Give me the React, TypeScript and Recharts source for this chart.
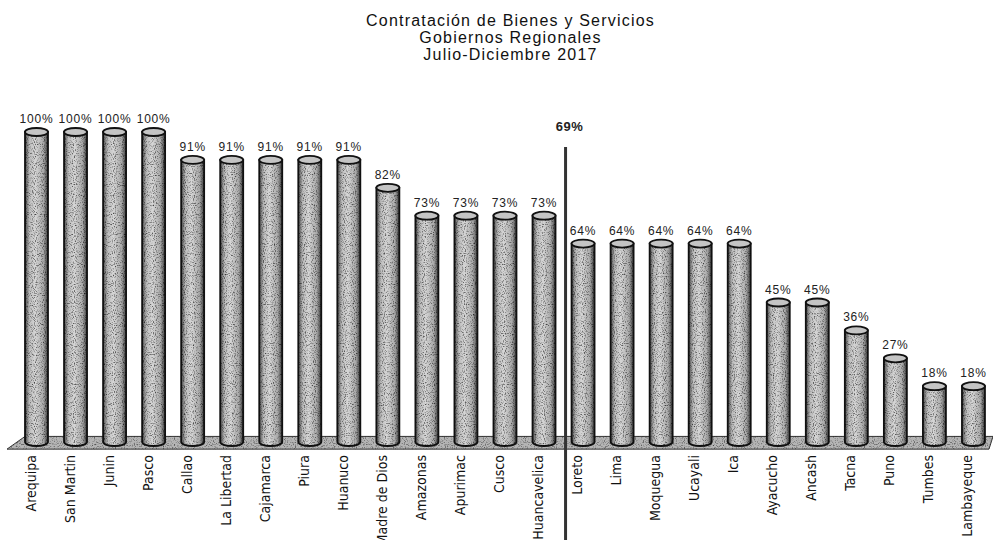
import { BarChart, Bar, XAxis, YAxis, LabelList, ReferenceLine, ReferenceArea } from 'recharts';

const regions = [
  'Arequipa', 'San Martin', 'Junin', 'Pasco', 'Callao', 'La Libertad', 'Cajamarca', 'Piura', 'Huanuco',
  'Madre de Dios', 'Amazonas', 'Apurimac', 'Cusco', 'Huancavelica', 'Loreto', 'Lima', 'Moquegua',
  'Ucayali', 'Ica', 'Ayacucho', 'Ancash', 'Tacna', 'Puno', 'Tumbes', 'Lambayeque',
];
const pct = [100, 100, 100, 100, 91, 91, 91, 91, 91, 82, 73, 73, 73, 73, 64, 64, 64, 64, 64, 45, 45, 36, 27, 18, 18];
const average = 69;
const averageAt = 'Loreto';
const titleLines = ['Contratación de Bienes y Servicios', 'Gobiernos Regionales', 'Julio-Diciembre 2017'];

const data = regions.map((name, i) => ({ name, value: pct[i] }));

const narrow = "'Liberation Sans Narrow', 'DejaVu Sans Condensed', 'Liberation Sans', sans-serif";
const sans = "'Liberation Sans', Arial, sans-serif";

function Cylinder(props: any) {
  const { x, y, width, height } = props;
  if (height == null || height <= 0) return null;
  const rx = width / 2;
  const ry = 4;
  const bottom = y + height;
  const body = `M${x},${y} L${x},${bottom} A${rx},${ry} 0 0 0 ${x + width},${bottom} L${x + width},${y} Z`;
  return (
    <g>
      <path d={body} fill="url(#cyl)" stroke="#111" strokeWidth={1.8} />
      <path d={body} fill="#000" filter="url(#stipple)" opacity={0.7} />
      <ellipse cx={x + rx} cy={y} rx={rx} ry={ry} fill="#c4c4c4" stroke="#111" strokeWidth={1.8} />
    </g>
  );
}

function Floor(props: any) {
  const { x, y, width, height } = props;
  const pts = `${x + 8},${y} ${x + width},${y} ${x + width - 4},${y + height} ${x - 10},${y + height}`;
  return (
    <g>
      <polygon points={pts} fill="#b5b5b5" stroke="#333" strokeWidth={1} />
      <polygon points={pts} fill="#000" filter="url(#stipple)" opacity={0.6} />
    </g>
  );
}

function AvgLine(props: any) {
  const { x1, y1, y2 } = props;
  const top = Math.min(y1, y2);
  return (
    <g>
      <line x1={x1 + 2} x2={x1 + 2} y1={top + 15} y2={540} stroke="#333" strokeWidth={3} />
      <text x={x1 + 6} y={top - 1} textAnchor="middle" fontFamily={sans} fontWeight="bold" fontSize={13} letterSpacing={0.5} fill="#222">
        {`${average}%`}
      </text>
    </g>
  );
}

function RegionTick(props: any) {
  const { x, y, payload } = props;
  const tx = x - 6;
  const ty = y + 5;
  return (
    <text
      x={tx}
      y={ty}
      transform={`rotate(-90, ${tx}, ${ty})`}
      textAnchor="end"
      dominantBaseline="central"
      fontFamily={narrow}
      fontSize={14}
      fill="#111"
    >
      {payload.value}
    </text>
  );
}

export default function App() {
  return (
    <div style={{ position: 'relative', width: 993, height: 540, background: '#fff' }}>
      <style>{'body{margin:0}'}</style>
      <div
        style={{
          position: 'absolute', top: 12, left: 14, width: 993, textAlign: 'center',
          fontFamily: sans, fontSize: 16, lineHeight: '17px', letterSpacing: 1.2, color: '#111',
        }}
      >
        {titleLines.map((t) => <div key={t}>{t}</div>)}
      </div>
      <div style={{ position: 'absolute', top: 0, left: 0 }}>
        <BarChart width={993} height={540} data={data} margin={{ top: 132, right: 0, bottom: 0, left: 17 }} barSize={23}>
          <defs>
            <linearGradient id="cyl" x1="0" y1="0" x2="1" y2="0">
              <stop offset="0" stopColor="#4a4a4a" />
              <stop offset="0.2" stopColor="#bdbdbd" />
              <stop offset="0.45" stopColor="#d6d6d6" />
              <stop offset="0.8" stopColor="#a9a9a9" />
              <stop offset="1" stopColor="#3c3c3c" />
            </linearGradient>
            <filter id="stipple" x="0" y="0" width="100%" height="100%">
              <feTurbulence type="fractalNoise" baseFrequency="0.9" numOctaves={1} seed={3} result="noise" />
              <feColorMatrix in="noise" type="matrix" values="0 0 0 0 0  0 0 0 0 0  0 0 0 0 0  3 0 0 0 -1.5" result="dots" />
              <feComposite in="dots" in2="SourceGraphic" operator="in" />
            </filter>
          </defs>
          <XAxis dataKey="name" height={98} axisLine={false} tickLine={false} interval={0} tick={<RegionTick />} />
          <YAxis hide domain={[0, 100]} />
          <ReferenceArea y1={-2.3} y2={1.8} ifOverflow="visible" shape={<Floor />} />
          <Bar dataKey="value" isAnimationActive={false} shape={<Cylinder />}>
            <LabelList
              dataKey="value"
              position="top"
              offset={9}
              formatter={(v: any) => `${v}%`}
              style={{ fontFamily: sans, fontSize: 12, letterSpacing: 0.8, fill: '#222' }}
            />
          </Bar>
          <ReferenceLine x={averageAt} position="start" ifOverflow="visible" shape={<AvgLine />} />
        </BarChart>
      </div>
    </div>
  );
}
